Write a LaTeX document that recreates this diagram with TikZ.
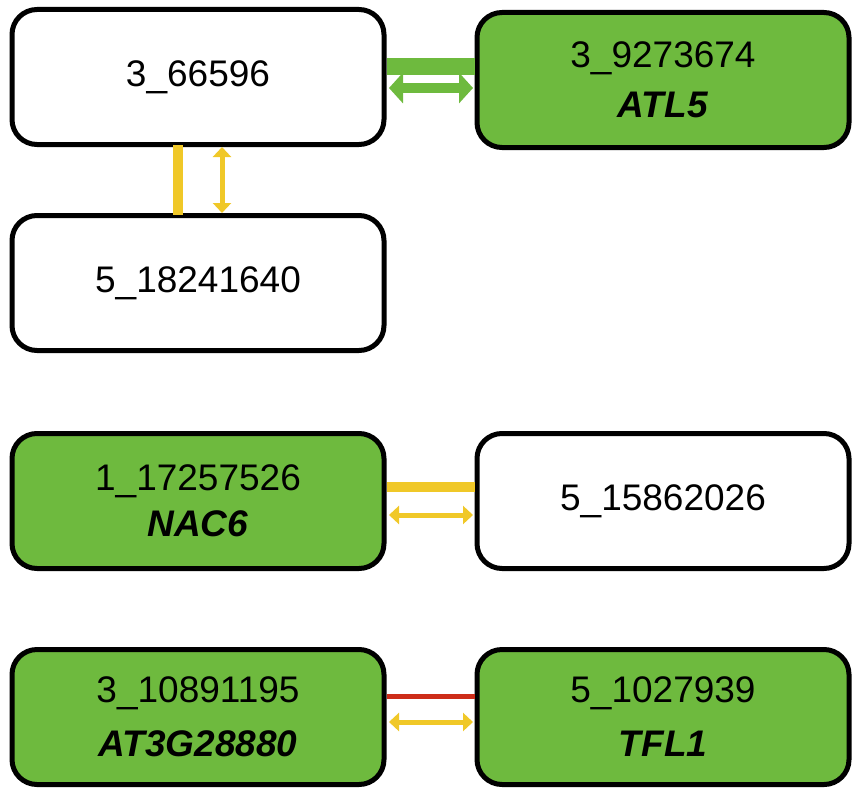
\documentclass[tikz,border=0pt]{standalone}
\usepackage{fontspec}
\setmainfont{Liberation Sans}
\usetikzlibrary{arrows.meta}
\definecolor{leaf}{RGB}{110,186,62}
\definecolor{gold}{RGB}{240,200,40}
\definecolor{rust}{RGB}{205,45,25}
\begin{document}
\begin{tikzpicture}[x=1pt,y=-1pt,
  box/.style={draw=black, line width=5pt, rounded corners=25pt, minimum width=372pt, minimum height=135pt, align=center, font=\fontsize{37}{46}\selectfont},
  hit/.style={box, fill=leaf},
  link/.style={line width=#1},
  twoway/.style={line width=10pt, {Triangle[length=14pt,width=30pt]}-{Triangle[length=14pt,width=30pt]}}]
  \useasboundingbox (0,0) rectangle (866,800);

  % boxes
  \node [box] (a) at (198,77) {3\_66596};
  \node [hit] (b) at (663,80) {3\_9273674\\[4pt] \textbf{\textit{ATL5}}};
  \node [box] (c) at (198,283) {5\_18241640};
  \node [hit] (d) at (198,501) {1\_17257526\\ \textbf{\textit{NAC6}}};
  \node [box] (e) at (663,501) {5\_15862026};
  \node [hit] (f) at (198,717) {3\_10891195\\[8pt] \textbf{\textit{AT3G28880}}};
  \node [hit] (g) at (663,717) {5\_1027939\\[8pt] \textbf{\textit{TFL1}}};

  % links
  \coordinate (ab1) at (387,66); \coordinate (ab2) at (475,66);
  \coordinate (ab3) at (389,88); \coordinate (ab4) at (473,88);
  \draw [link=17pt, leaf] (ab1) -- (ab2);
  \draw [twoway, leaf] (ab3) -- (ab4);

  \coordinate (ac1) at (178,145); \coordinate (ac2) at (178,215);
  \coordinate (ac3) at (222,147); \coordinate (ac4) at (222,213);
  \draw [link=10pt, gold] (ac1) -- (ac2);
  \draw [line width=5pt, gold, {Triangle[length=10pt,width=18pt]}-{Triangle[length=10pt,width=18pt]}] (ac3) -- (ac4);

  \coordinate (de1) at (387,487); \coordinate (de2) at (475,487);
  \coordinate (de3) at (389,515); \coordinate (de4) at (473,515);
  \draw [link=10pt, gold] (de1) -- (de2);
  \draw [line width=5pt, gold, {Triangle[length=10pt,width=18pt]}-{Triangle[length=10pt,width=18pt]}] (de3) -- (de4);

  \coordinate (fg1) at (387,696); \coordinate (fg2) at (475,696);
  \coordinate (fg3) at (389,722); \coordinate (fg4) at (473,722);
  \draw [link=5pt, rust] (fg1) -- (fg2);
  \draw [line width=5pt, gold, {Triangle[length=10pt,width=18pt]}-{Triangle[length=10pt,width=18pt]}] (fg3) -- (fg4);
\end{tikzpicture}
\end{document}
